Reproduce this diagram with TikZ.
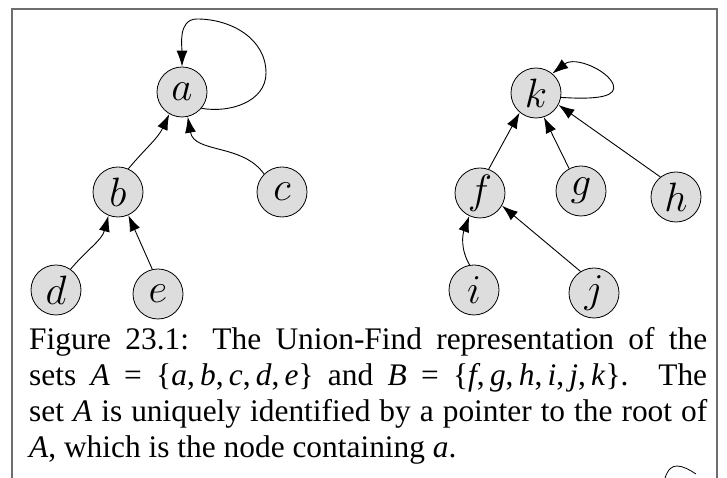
\RequirePackage{fix-cm}
\documentclass[tikz,border=0pt]{standalone}
\usepackage{fontspec}
\setmainfont{Liberation Serif}
\usetikzlibrary{arrows.meta}
\definecolor{nodefill}{HTML}{DDDDDD}
\definecolor{framegray}{HTML}{6E6E6E}
\begin{document}
\begin{tikzpicture}[x=1pt,y=1pt,
  vtx/.style={circle, draw=black, line width=0.8pt, fill=nodefill,
    minimum size=50pt, inner sep=0pt, font=\fontsize{41}{41}\selectfont},
  ptr/.style={line width=0.9pt, -{Latex[length=16pt,width=11pt]}},
  capline/.style={anchor=base west, inner sep=0pt, font=\fontsize{31.4}{36}\selectfont}]
\useasboundingbox (0,0) rectangle (727,478);
% frame
\draw[framegray, line width=1.3pt] (12,0) -- (12,469) -- (717,469) -- (717,0);
% tree A
\node[vtx] (a) at (182,386) {$a$};
\node[vtx] (b) at (118,286) {$b$};
\node[vtx] (c) at (282,286) {$c$};
\node[vtx] (d) at (56,188) {$d$};
\node[vtx] (e) at (158,184) {$e$};
% tree B
\node[vtx] (k) at (536,385) {$k$};
\node[vtx] (f) at (480,285) {$f$};
\node[vtx] (g) at (581,287) {$g$};
\node[vtx] (h) at (676,281) {$h$};
\node[vtx] (i) at (474,188) {$i$};
\node[vtx] (j) at (594,185) {$j$};
% loop helpers
\coordinate (aR) at (266,405);
\coordinate (aT) at (197,459);
% edges of A
\draw[ptr] (a.-40) to[out=-10,in=-90] (aR) to[out=90,in=0] (aT) to[out=180,in=90] (a.north);
\draw[ptr] (b.66) to[out=50,in=-115] (a.-120);
\draw[ptr] (c.135) to[out=125,in=-80] (a.-77);
\draw[ptr] (d.55) to[out=50,in=-105] (b.-112);
\draw[ptr] (e.103) -- (b.-66);
% edges of B
\draw[ptr] (k.-10) .. controls (600,378) and (618,382) .. (613,394)
  .. controls (607,408) and (575,422) .. (k.50);
\draw[ptr] (f.70) -- (k.-130);
\draw[ptr] (g.118) -- (k.-72);
\draw[ptr] (h.128) -- (k.-28);
\draw[ptr] (i.100) to[out=120,in=-110] (f.-115);
\draw[ptr] (j.122) -- (f.-30);
% caption
\node[capline] (l1) at (29,128) {\makebox[678pt][s]{Figure 23.1: The Union-Find representation of the}};
\node[capline] (l2) at (29,92) {\makebox[678pt][s]{sets \textit{A} = \{\textit{a},\,\textit{b},\,\textit{c},\,\textit{d},\,\textit{e}\} and \textit{B} = \{\textit{f},\,\textit{g},\,\textit{h},\,\textit{i},\,\textit{j},\,\textit{k}\}. The}};
\node[capline] (l3) at (29,56) {\makebox[678pt][s]{set \textit{A} is uniquely identified by a pointer to the root of}};
\node[capline] (l4) at (29,20) {\textit{A}, which is the node containing \textit{a}.};
% fragment of next figure
\draw[line width=0.8pt] (665,0) .. controls (668,9) and (672,12) .. (677,12)
  .. controls (683,12) and (690,8) .. (696,4);
\end{tikzpicture}
\end{document}
